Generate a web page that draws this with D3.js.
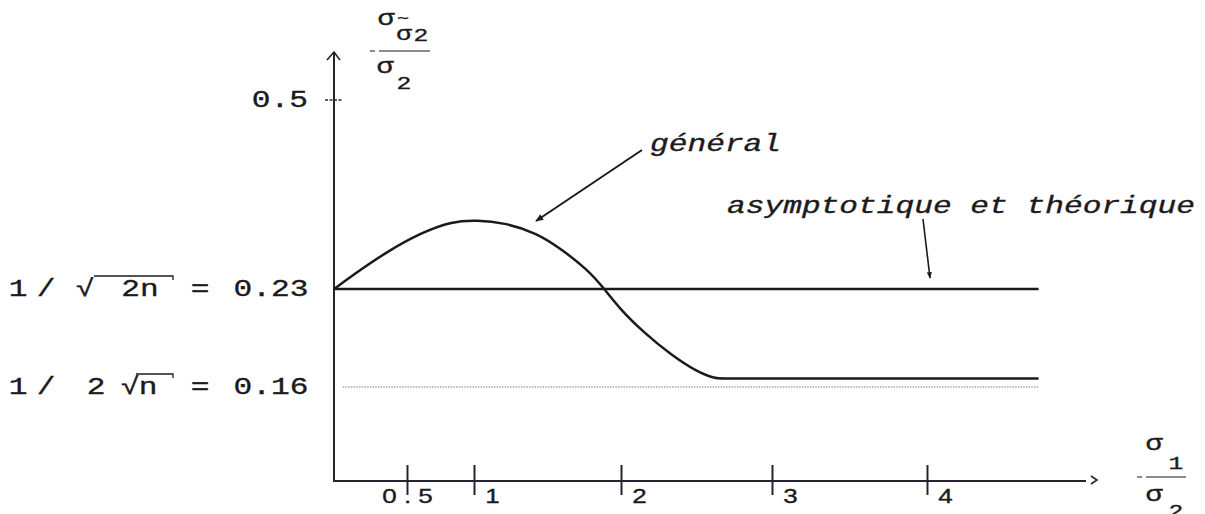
<!DOCTYPE html>
<html>
<head>
<meta charset="utf-8">
<script src="https://cdn.jsdelivr.net/npm/d3@7"></script>
<style>
  body { margin: 0; background: #fff; }
</style>
</head>
<body>
<div id="chart"></div>
<script>
const width = 1205;
const height = 514;

// "général" curve : x = sigma1 / sigma2, y = sigma(sigma~2) / sigma2
const curveX = [0, 0.13, 0.36, 0.6, 0.84, 1.02, 1.2, 1.43, 1.6, 1.77, 1.88, 1.99, 2.15, 2.33, 2.5, 2.62, 2.7, 4.0, 4.72];
const curveY = [0.23, 0.25, 0.283, 0.31, 0.327, 0.328, 0.325, 0.31, 0.286, 0.258, 0.232, 0.216, 0.199, 0.183, 0.171, 0.166, 0.166, 0.166, 0.166];

const asymptote = 0.23;   // 1 / sqrt(2n)
const lowerBound = 0.16;  // 1 / (2 sqrt(n))
const lineStart = 0.06;
const lineEnd = 4.72;

const xTicks = [0.5, 1, 2, 3, 4];
const xTickLabels = ["0.5", "1", "2", "3", "4"];
const yTicks = [0.5];
const yTickLabels = ["0.5"];

const ink = "#1c1a1c";
const axisColor = "#2a2230";
const sx = 1.3; // the typewriter face is wider than Liberation Mono

// hand drawn figure : the scales are not strictly linear
const x = d3.scaleLinear().domain([0, 0.5, 1, 2, 3, 4]).range([334, 407, 474, 621, 772, 927]);
const y = d3.scaleLinear().domain([0, 0.16, 0.23, 0.5]).range([481, 387, 289, 100]);

const svg = d3.select("#chart").append("svg")
    .attr("width", width)
    .attr("height", height)
    .style("font-family", "'Liberation Mono', 'DejaVu Sans Mono', monospace");

const defs = svg.append("defs");
defs.append("marker")
    .attr("id", "head")
    .attr("viewBox", "0 -5 10 10")
    .attr("refX", 9)
    .attr("markerWidth", 4.5)
    .attr("markerHeight", 4)
    .attr("orient", "auto")
    .append("path")
    .attr("d", "M0,-4L10,0L0,4Z")
    .attr("fill", ink);

function typed(g, px, py, str, size, anchor = "start", italic = false) {
    return g.append("text")
        .attr("transform", `translate(${px},${py}) scale(${sx},1)`)
        .attr("text-anchor", anchor)
        .attr("font-size", size)
        .attr("font-style", italic ? "italic" : "normal")
        .attr("fill", ink)
        .attr("stroke", ink)
        .attr("stroke-width", 0.35)
        .text(str);
}

// y axis
svg.append("line")
    .attr("x1", x(0)).attr("x2", x(0))
    .attr("y1", y(0) + 1).attr("y2", 52)
    .attr("stroke", axisColor).attr("stroke-width", 2);
svg.append("path")
    .attr("d", `M${x(0) - 7},60L${x(0)},52L${x(0) + 6},60`)
    .attr("fill", "none").attr("stroke", axisColor).attr("stroke-width", 1.6);

yTicks.forEach((v, i) => {
    svg.append("line")
        .attr("x1", x(0) - 9).attr("x2", x(0) + 8)
        .attr("y1", y(v)).attr("y2", y(v))
        .attr("stroke", axisColor).attr("stroke-width", 1.3)
        .attr("stroke-dasharray", "3,1.5");
    typed(svg, 308, y(v) + 7, yTickLabels[i], 24, "end");
});

// x axis
svg.append("line")
    .attr("x1", x(0)).attr("x2", 1086)
    .attr("y1", y(0)).attr("y2", y(0))
    .attr("stroke", axisColor).attr("stroke-width", 2);
svg.append("path")
    .attr("d", `M1091,${y(0) - 5}L1097,${y(0) - 1}L1091,${y(0) + 3}`)
    .attr("fill", "none").attr("stroke", axisColor).attr("stroke-width", 1.6);

const xAxis = d3.axisBottom(x).tickValues(xTicks).tickSize(14).tickFormat((d, i) => xTickLabels[i]);
const gx = svg.append("g").attr("transform", `translate(0,${y(0)})`).call(xAxis);
gx.select(".domain").remove();
gx.selectAll(".tick line")
    .attr("y1", -16).attr("y2", 14)
    .attr("stroke", axisColor).attr("stroke-width", 2);
gx.selectAll(".tick text").remove();
gx.selectAll(".tick").each(function (d, i) {
    const g = d3.select(this);
    const label = xTickLabels[i];
    if (label.length > 1) {
        // typed with the tick going through the decimal point
        label.split("").forEach((c, k) => typed(g, (k - (label.length - 1) / 2) * 18, 22, c, 20, "middle"));
    } else {
        typed(g, 18, 22, label, 20, "middle");
    }
});

// asymptotic / theoretical line and lower bound
svg.append("line")
    .attr("x1", x(0)).attr("x2", x(lineEnd))
    .attr("y1", y(asymptote)).attr("y2", y(asymptote))
    .attr("stroke", ink).attr("stroke-width", 2.4);

svg.append("line")
    .attr("x1", x(lineStart)).attr("x2", x(lineEnd))
    .attr("y1", y(lowerBound)).attr("y2", y(lowerBound))
    .attr("stroke", "#777").attr("stroke-width", 1)
    .attr("stroke-dasharray", "1.5,1.2");

// general curve
const line = d3.line()
    .x((d) => x(d[0]))
    .y((d) => y(d[1]))
    .curve(d3.curveBasis);

svg.append("path")
    .datum(curveX.map((v, i) => [v, curveY[i]]))
    .attr("d", line)
    .attr("fill", "none")
    .attr("stroke", ink)
    .attr("stroke-width", 2.5)
    .attr("stroke-linejoin", "round");

// left labels with square roots
function rootLabel(pieces, v, rootX) {
    const by = y(v) + 7;
    pieces.forEach(([s, cx]) => typed(svg, cx, by, s, 24, "middle"));
    svg.append("path")
        .attr("d", `M${rootX},${by - 20}L173,${by - 20}L173,${by - 16}`)
        .attr("fill", "none").attr("stroke", ink).attr("stroke-width", 1.3);
}
rootLabel([["1", 18], ["/", 46], ["√", 85], ["2n", 140], ["=", 200], ["0.23", 271]], asymptote, 94);
rootLabel([["1", 18], ["/", 46], ["2", 96], ["√", 130], ["n", 148], ["=", 200], ["0.16", 271]], lowerBound, 136);

// annotations
typed(svg, 650, 151, "général", 24, "start", true);
svg.append("line")
    .attr("x1", 642).attr("y1", 150).attr("x2", 536).attr("y2", 221)
    .attr("stroke", ink).attr("stroke-width", 2)
    .attr("marker-end", "url(#head)");

typed(svg, 727, 213, "asymptotique et théorique", 24, "start", true);
svg.append("line")
    .attr("x1", 923).attr("y1", 219).attr("x2", 930).attr("y2", 278)
    .attr("stroke", ink).attr("stroke-width", 1.6)
    .attr("marker-end", "url(#head)");

// y axis title : sigma(sigma~2) / sigma2
typed(svg, 386, 25, "σ", 22, "middle");
typed(svg, 403, 23, "~", 15, "middle");
typed(svg, 404, 40, "σ", 20, "middle");
typed(svg, 421, 41, "2", 19, "middle");
svg.append("line")
    .attr("x1", 370).attr("x2", 430).attr("y1", 51).attr("y2", 51)
    .attr("stroke", ink).attr("stroke-width", 1.2)
    .attr("stroke-dasharray", "5,4,60");
typed(svg, 385, 73, "σ", 22, "middle");
typed(svg, 404, 89, "2", 19, "middle");

// x axis title : sigma1 / sigma2
typed(svg, 1154, 450, "σ", 22, "middle");
typed(svg, 1176, 469, "1", 19, "middle");
svg.append("line")
    .attr("x1", 1137).attr("x2", 1186).attr("y1", 477).attr("y2", 477)
    .attr("stroke", ink).attr("stroke-width", 1.2)
    .attr("stroke-dasharray", "5,4,60");
typed(svg, 1154, 501, "σ", 22, "middle");
typed(svg, 1176, 517, "2", 19, "middle");
</script>
</body>
</html>
